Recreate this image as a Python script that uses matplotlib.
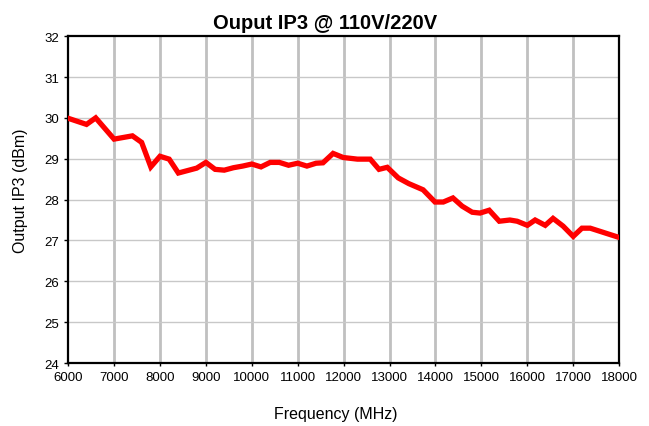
import matplotlib

matplotlib.use("Agg")
import matplotlib.pyplot as plt

plt.rcParams["font.family"] = ["Liberation Sans", "DejaVu Sans"]

# Frequency (MHz) and output IP3 (dBm)
freq_mhz = [6000, 6400, 6600, 7000, 7400, 7600, 7800, 8000, 8200, 8400,
            8800, 9000, 9200, 9400, 9600, 9800, 10000, 10200, 10400, 10600,
            10800, 11000, 11200, 11400, 11550, 11770, 11990, 12300, 12580, 12770,
            12950, 13190, 13420, 13730, 13990, 14170, 14380, 14580, 14800, 14970,
            15170, 15390, 15620, 15780, 16000, 16170, 16390, 16560, 16780, 17000,
            17190, 17370, 17980]
ip3_dbm = [29.99, 29.84, 30.0, 29.48, 29.56, 29.4, 28.8, 29.06, 28.99, 28.65,
           28.77, 28.91, 28.74, 28.72, 28.78, 28.82, 28.87, 28.8, 28.91, 28.91,
           28.84, 28.89, 28.82, 28.89, 28.9, 29.13, 29.03, 28.99, 28.99, 28.74,
           28.79, 28.53, 28.39, 28.24, 27.94, 27.94, 28.04, 27.84, 27.69, 27.67,
           27.74, 27.47, 27.5, 27.47, 27.37, 27.5, 27.37, 27.54, 27.35, 27.1,
           27.3, 27.3, 27.08]

x_ticks = list(range(6000, 18001, 1000))
y_ticks = list(range(24, 33))

fig = plt.figure(figsize=(6.49, 4.27), dpi=100)
ax = fig.add_axes([0.105, 0.1475, 0.849, 0.7655])

ax.plot(freq_mhz, ip3_dbm, color="#ff0000", linewidth=3.8, solid_joinstyle="miter", zorder=3)

ax.set_xlim(6000, 18000)
ax.set_ylim(24, 32)
ax.set_xticks(x_ticks)
ax.set_yticks(y_ticks)
ax.tick_params(axis="both", labelsize=9.5, length=3, width=1, direction="out")
ax.tick_params(axis="x", length=2, pad=4)

for x in x_ticks[1:-1]:
    ax.axvline(x, color="#c0c0c0", linewidth=2.0, zorder=1)
for y in y_ticks[1:-1]:
    ax.axhline(y, color="#c8c8c8", linewidth=1.0, zorder=1)

for spine in ax.spines.values():
    spine.set_color("black")
    spine.set_linewidth(1.6)

# title sits over the figure centre, not the axes centre
ax.set_title("Ouput IP3 @ 110V/220V", fontsize=14.5, fontweight="bold", pad=6, x=0.466)
ax.set_xlabel("Frequency (MHz)", fontsize=11.5, labelpad=16)
ax.xaxis.set_label_coords(0.485, -0.13)
ax.set_ylabel("Output IP3 (dBm)", fontsize=11.5)
ax.yaxis.set_label_coords(-0.072, 0.53)

fig.savefig("out.png", dpi=100, facecolor="white")
